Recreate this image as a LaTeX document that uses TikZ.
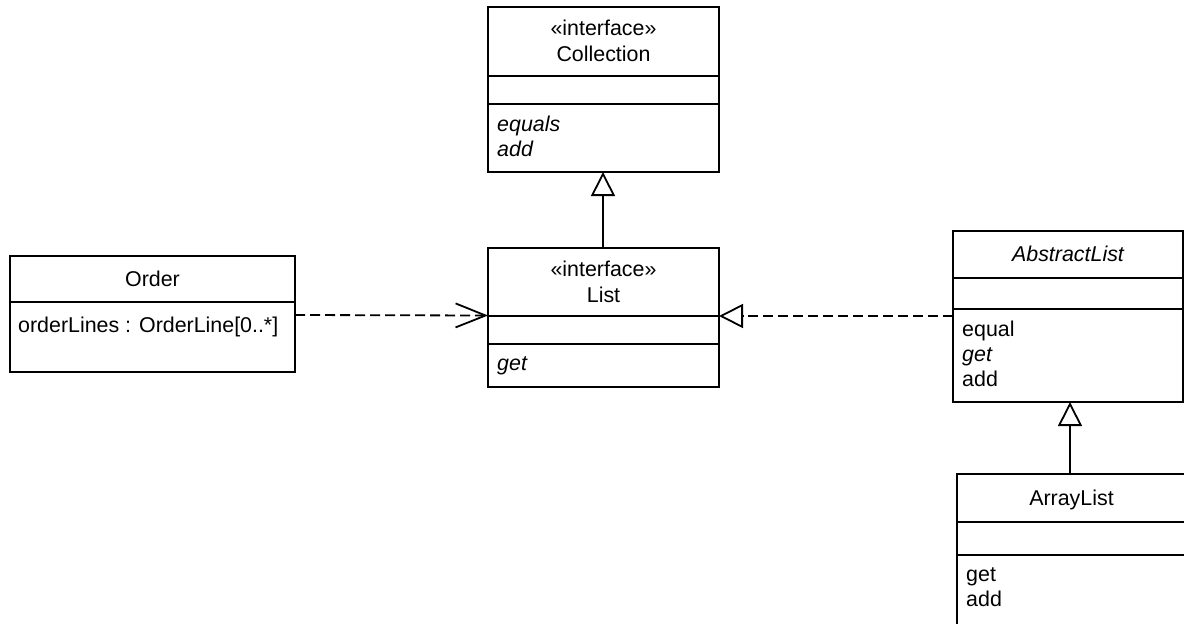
\documentclass[tikz,border=0pt]{standalone}
\usepackage{fontspec}
\setmainfont{Liberation Sans}
\usetikzlibrary{arrows.meta}
\tikzset{
  cls/.style={draw, line width=1.8pt, anchor=north west, inner sep=0pt, outer sep=0pt},
  divider/.style={line width=1.8pt},
  lbl/.style={anchor=base, inner sep=0pt},
  lft/.style={anchor=base west, inner sep=0pt},
  gen/.style={-{Triangle[open,length=24pt,width=24pt,line width=1.8pt]}, line width=1.8pt},
  real/.style={gen, dash pattern=on 10pt off 5pt},
  dep/.style={-{Straight Barb[length=30pt,width=24pt,line width=1.8pt]}, line width=1.8pt, dash pattern=on 10pt off 5pt}
}
\begin{document}
\begin{tikzpicture}[x=1pt,y=-1pt,font=\fontsize{21.4}{25}\selectfont]
\useasboundingbox (0,0) rectangle (1184,624);
\clip (0,0) rectangle (1184,624);
\fill[white] (0,0) rectangle (1184,624);

% Collection
\node[cls, minimum width=231pt, minimum height=165pt] (coll) at (488,7) {};
\draw[divider] (coll.west |- 0,76) -- (coll.east |- 0,76);
\draw[divider] (coll.west |- 0,104) -- (coll.east |- 0,104);
\node[lbl] (collst) at (603.5,35.5) {«interface»};
\node[lbl] (collname) at (603.5,61.5) {Collection};
\node[lft] (collop1) at (497,131) {\itshape equals};
\node[lft] (collop2) at (497,156) {\itshape add};

% List
\node[cls, minimum width=231pt, minimum height=139pt] (list) at (488,248) {};
\draw[divider] (list.west |- 0,316) -- (list.east |- 0,316);
\draw[divider] (list.west |- 0,344) -- (list.east |- 0,344);
\node[lbl] (listst) at (603.5,276.7) {«interface»};
\node[lbl] (listname) at (603.5,302.7) {List};
\node[lft] (listop1) at (497,370) {\itshape get};

% Order
\node[cls, minimum width=285pt, minimum height=116pt] (order) at (10,256) {};
\draw[divider] (order.west |- 0,302) -- (order.east |- 0,302);
\node[lbl] (ordername) at (152.5,286.5) {Order};
\node[lft] (orderattr) at (18,332) {orderLines : OrderLine[0..*]};

% AbstractList
\node[cls, minimum width=230pt, minimum height=171pt] (abs) at (953,231) {};
\draw[divider] (abs.west |- 0,278) -- (abs.east |- 0,278);
\draw[divider] (abs.west |- 0,309) -- (abs.east |- 0,309);
\node[lbl] (absname) at (1068,261) {\itshape AbstractList};
\node[lft] (absop1) at (962,336) {equal};
\node[lft] (absop2) at (962,361.5) {\itshape get};
\node[lft] (absop3) at (962,386.5) {add};

% ArrayList
\node[cls, minimum width=231pt, minimum height=190pt] (arr) at (957,474) {};
\draw[divider] (arr.west |- 0,522) -- (arr.east |- 0,522);
\draw[divider] (arr.west |- 0,555) -- (arr.east |- 0,555);
\node[lbl] (arrname) at (1071.5,505) {ArrayList};
\node[lft] (arrop1) at (966,581.7) {get};
\node[lft] (arrop2) at (966,606.7) {add};

% Connectors
\draw[gen] (list.north -| 603,0) -- (coll.south -| 603,0);
\draw[dep] (order.east |- 0,315) -- (list.west |- 0,315.5);
\draw[real] (abs.west |- 0,316) -- (list.east |- 0,316);
\draw[gen] (arr.north -| 1070,0) -- (abs.south -| 1070,0);
\end{tikzpicture}
\end{document}
